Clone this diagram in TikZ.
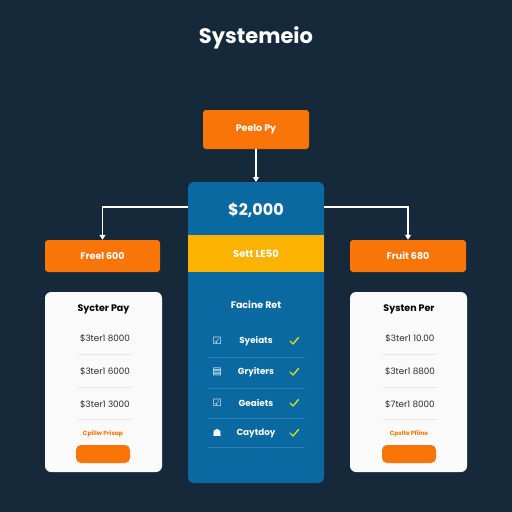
\documentclass[tikz,border=0pt]{standalone}
\usepackage{fontspec}
\setmainfont{Poppins}
\newfontfamily\symfont{DejaVu Sans}
\usetikzlibrary{arrows.meta}
\definecolor{bgc}{HTML}{16293B}
\definecolor{orng}{HTML}{FA7507}
\definecolor{blu}{HTML}{0A69A1}
\definecolor{yel}{HTML}{FBB300}
\definecolor{cardw}{HTML}{FAFAFA}
\definecolor{chk}{HTML}{C9E21E}
\definecolor{sep}{HTML}{E6E6E6}
\definecolor{txtd}{HTML}{2A2A2A}
\tikzset{
  obox/.style={fill=orng, rounded corners=3pt, draw=none},
  otext/.style={text=white, font=\fontsize{9.5}{11}\selectfont\bfseries},
  conn/.style={draw=white, line width=1.2pt},
  arr/.style={conn, -{Triangle[width=6pt,length=5pt]}},
  wcard/.style={fill=cardw, rounded corners=6pt, draw=none},
  rowt/.style={text=txtd, font=\fontsize{8.8}{10}\selectfont},
  ctitle/.style={text=black, font=\fontsize{9.5}{11}\selectfont\bfseries},
  smallo/.style={text=orng, font=\fontsize{6}{7}\selectfont\bfseries},
  crow/.style={text=white, font=\fontsize{8.8}{10}\selectfont\bfseries},
  icon/.style={text=white, font=\symfont\fontsize{10}{11}\selectfont},
  chkm/.style={draw=chk, line width=1.4pt, line cap=round, line join=round},
}
\begin{document}
\begin{tikzpicture}[x=1pt,y=-1pt]
\fill[bgc] (0,0) rectangle (512,512);
\useasboundingbox (0,0) rectangle (512,512);
% title
\node[text=white, font=\fontsize{21}{24}\selectfont\bfseries] (title) at (256,38) {Systemeio};
% top box
\node[obox, minimum width=106pt, minimum height=39pt] (top) at (256,129.5) {};
\node[otext] (toptxt) at (top.center) {Peelo Py};
% center card
\fill[blu, rounded corners=6pt] (188,182) rectangle (324,483);
\coordinate (ctop) at (256,182);
\fill[yel] (188,235) rectangle (324,272);
\node[text=white, font=\fontsize{16}{18}\selectfont\bfseries] (price) at (256,210) {\$2,000};
\node[otext, font=\fontsize{10}{12}\selectfont\bfseries] (band) at (256,253.5) {Sett LE50};
\coordinate (cl) at (188,207);
\coordinate (cr) at (324,207);
% left/right orange boxes
\node[obox, minimum width=115pt, minimum height=32pt] (lbox) at (102.5,256) {};
\node[otext] (ltxt) at (lbox.center) {Freel 600};
\node[obox, minimum width=116pt, minimum height=32pt] (rbox) at (408,256) {};
\node[otext] (rtxt) at (rbox.center) {Fruit 680};
% connectors
\draw[arr] (top.south) -- (ctop);
\draw[arr] (cl) -| (lbox.north);
\draw[arr] (cr) -| (rbox.north);
% left card
\fill[wcard] (45,292) rectangle (162,472);
\node[ctitle] (lt) at (103.5,309) {Sycter Pay};
\node[rowt] (l1) at (105,338) {\$3ter1 8000};
\node[rowt] (l2) at (105,371) {\$3ter1 6000};
\node[rowt] (l3) at (105,404) {\$3ter1 3000};
\draw[sep, line width=0.6pt] (78,354) -- (132,354) (78,387) -- (132,387) (78,419) -- (132,419);
\node[smallo] (lo) at (103,434) {Cpillw Prisap};
\node[fill=orng, rounded corners=5pt, minimum width=54pt, minimum height=18pt, inner sep=0] (lbtn) at (103,454) {};
% right card
\fill[wcard] (350,292) rectangle (467,472);
\node[ctitle] (rt) at (409,309) {Systen Per};
\node[rowt] (r1) at (410,338) {\$3ter1 10.00};
\node[rowt] (r2) at (410,371) {\$3ter1 8800};
\node[rowt] (r3) at (410,404) {\$7ter1 8000};
\draw[sep, line width=0.6pt] (383,354) -- (437,354) (383,387) -- (437,387) (383,419) -- (437,419);
\node[smallo] (ro) at (409,434) {Cpslte Pfiine};
\node[fill=orng, rounded corners=5pt, minimum width=54pt, minimum height=18pt, inner sep=0] (rbtn) at (409,454) {};
% center card content
\node[crow, font=\fontsize{9.5}{11}\selectfont\bfseries] (ct) at (256,305) {Facine Ret};
\node[icon] (i1) at (217,341) {☑};
\node[crow] (c1) at (256,341) {Syeiats};
\node[icon] (i2) at (217,372) {▤};
\node[crow] (c2) at (256,372) {Gryiters};
\node[icon] (i3) at (217,403) {☑};
\node[crow] (c3) at (256,403) {Geaiets};
\node[icon] (i4) at (217,433) {☗};
\node[crow] (c4) at (256,433) {Caytdoy};
\foreach \yy in {341,372,403,433}{
  \draw[chkm] (290,\yy) -- (293,\yy+3) -- (298.5,\yy-3.5);
}
\draw[blu!85!white, line width=0.4pt] (208,357) -- (305,357) (208,388) -- (305,388) (208,418) -- (305,418) (208,447) -- (305,447);
\end{tikzpicture}
\end{document}
